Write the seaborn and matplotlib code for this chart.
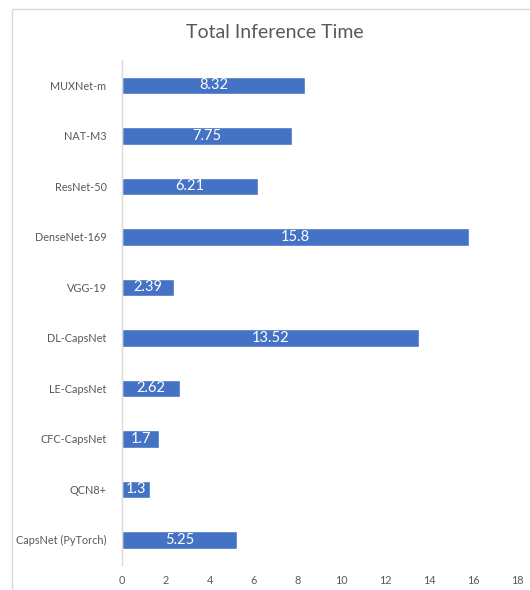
import matplotlib
matplotlib.use('Agg')
import matplotlib.pyplot as plt
import seaborn as sns
import pandas as pd
from matplotlib.patches import Rectangle

models = ['MUXNet-m', 'NAT-M3', 'ResNet-50', 'DenseNet-169', 'VGG-19',
          'DL-CapsNet', 'LE-CapsNet', 'CFC-CapsNet', 'QCN8+', 'CapsNet (PyTorch)']
times = [8.32, 7.75, 6.21, 15.8, 2.39, 13.52, 2.62, 1.7, 1.3, 5.25]
xticks = [0, 2, 4, 6, 8, 10, 12, 14, 16, 18]

df = pd.DataFrame({'model': models, 'time': times})

sns.set_style('white')
plt.rcParams['font.family'] = ['Lato', 'DejaVu Sans']
grey = '#595959'

fig = plt.figure(figsize=(5.3, 5.9), dpi=100)
ax = fig.add_axes([0.230, 0.042, 0.747, 0.856])

sns.barplot(data=df, y='model', x='time', orient='h', color='#4472C4',
            saturation=1, width=0.35, ax=ax)

# value labels centred inside each bar
for i, v in enumerate(times):
    ax.text(v / 2, i, str(v), color='white', ha='center', va='center', fontsize=10.5)

ax.set_xlim(0, 18)
ax.set_xticks(xticks)
ax.set_xlabel('')
ax.set_ylabel('')
ax.tick_params(axis='both', length=0, labelsize=7.8, colors=grey)
ax.tick_params(axis='x', pad=7)
ax.tick_params(axis='y', pad=11)
for s in ['top', 'right', 'bottom']:
    ax.spines[s].set_visible(False)
ax.spines['left'].set_color('#D9D9D9')
ax.spines['left'].set_linewidth(1)

fig.text(0.518, 0.945, 'Total Inference Time', ha='center', va='center',
         fontsize=14, color=grey)

# chart-area frame, cut off at right and bottom like the reference
fig.add_artist(Rectangle((12 / 530, -0.1), 1.1, 1.1 - 9 / 590, transform=fig.transFigure,
                         fill=False, edgecolor='#D9D9D9', linewidth=1))

fig.savefig('out.png', dpi=100)
